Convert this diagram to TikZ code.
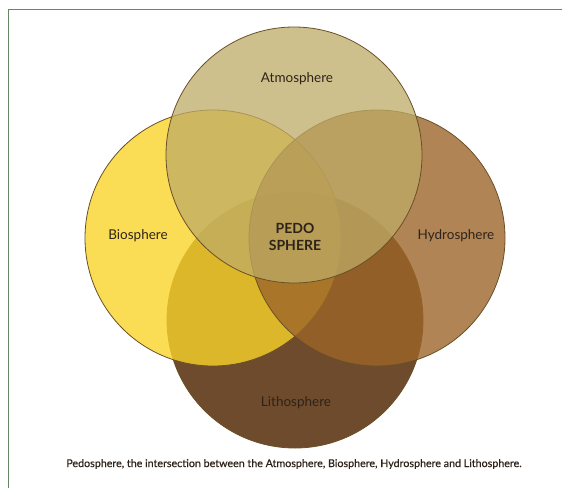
\documentclass[tikz,border=0pt]{standalone}
\usepackage{fontspec}
\setmainfont{Lato}
\newfontfamily\capfont[FakeBold=0.6]{Lato}

\definecolor{atmocol}{RGB}{190,171,102}
\definecolor{biocol}{RGB}{249,211,42}
\definecolor{hydrocol}{RGB}{156,101,41}
\definecolor{lithocol}{RGB}{110,75,44}
\definecolor{rimcol}{RGB}{105,80,38}
\definecolor{framecol}{RGB}{100,135,100}
\definecolor{inkcol}{RGB}{45,35,25}

\begin{document}
\begin{tikzpicture}[
        x=1pt, y=-1pt,
        font=\fontsize{13.5}{16}\selectfont,
        sphere/.style={
            circle,
            draw=rimcol,
            line width=0.8pt,
            minimum size=256pt,
            inner sep=0pt
        },
        litho/.style={sphere, fill=lithocol},
        bio/.style={sphere, fill=biocol, fill opacity=0.8},
        hydro/.style={sphere, fill=hydrocol, fill opacity=0.8},
        atmo/.style={sphere, fill=atmocol, fill opacity=0.75},
        lbl/.style={
            text=inkcol,
            inner sep=0pt
        },
        core/.style={
            lbl,
            font=\fontsize{14}{17}\selectfont\bfseries,
            align=center
        },
        caption/.style={
            lbl,
            font=\capfont\fontsize{10.7}{12}\selectfont
        },
        frame/.style={
            draw=framecol,
            line width=0.8pt
        }
    ]

    \useasboundingbox (0,0) rectangle (562,488);
    \draw[frame] (8,488) -- (8,9) -- (562,9);

    \node[litho] (lithosphere) at (295,320) {};
    \node[bio] (biosphere) at (213,238) {};
    \node[hydro] (hydrosphere) at (377,238) {};
    \node[atmo] (atmosphere) at (294,155) {};

    \node[lbl] (atmotext) at (297,79) {Atmosphere};
    \node[lbl] (biotext) at (138,236) {Biosphere};
    \node[lbl] (hydrotext) at (456,236) {Hydrosphere};
    \node[lbl] (lithotext) at (296,403) {Lithosphere};
    \node[core] (pedotext) at (295,237) {PEDO\\SPHERE};

    \node[caption] (captext) at (294,464)
        {Pedosphere, the intersection between the Atmosphere, Biosphere, Hydrosphere and Lithosphere.};

\end{tikzpicture}
\end{document}
